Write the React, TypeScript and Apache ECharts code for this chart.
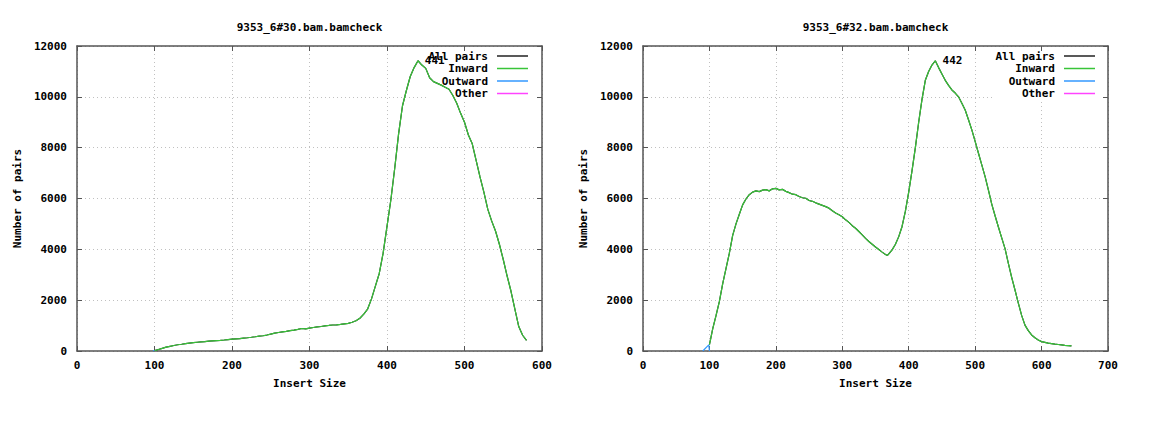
import React, { useEffect, useRef } from "react";
import * as echarts from "echarts";

// ---------- data ----------
const leftTitle = "9353_6#30.bam.bamcheck";
const rightTitle = "9353_6#32.bam.bamcheck";
const seriesNames = ["All pairs", "Inward", "Outward", "Other"];
const seriesColors = ["#222222", "#38c438", "#3399ff", "#ff44ff"];
const xAxisName = "Insert Size";
const yAxisName = "Number of pairs";
const leftXMax = 600;
const rightXMax = 700;
const yMax = 12000;
const xStep = 100;
const yStep = 2000;

const leftPeak = [441, 11420];
const rightPeak = [442, 11420];

const leftInward: number[][] = [
  [100, 15], [105, 60], [110, 105], [115, 150], [120, 185], [125, 215], [130, 245], [135, 265],
  [140, 290], [145, 310], [150, 330], [155, 345], [160, 360], [165, 372], [170, 385], [175, 398],
  [180, 410], [185, 418], [190, 432], [195, 450], [200, 465], [205, 478], [210, 490], [215, 510],
  [220, 522], [225, 540], [230, 560], [235, 582], [240, 600], [245, 628], [250, 665], [255, 700],
  [260, 728], [265, 755], [270, 775], [275, 802], [280, 822], [285, 848], [290, 885], [295, 868],
  [300, 902], [305, 925], [310, 948], [315, 965], [320, 992], [325, 1005], [330, 1022], [335, 1030],
  [340, 1048], [345, 1070], [350, 1090], [355, 1130], [360, 1190], [365, 1290], [370, 1450],
  [375, 1650], [380, 2050], [385, 2550], [390, 3050], [395, 3850], [400, 4900], [405, 5950],
  [410, 7200], [415, 8550], [420, 9650], [425, 10250], [430, 10800], [435, 11150], [440, 11420],
  [445, 11250], [450, 11120], [455, 10750], [460, 10600], [465, 10530], [470, 10460], [475, 10380],
  [480, 10300], [485, 10050], [490, 9750], [495, 9350], [500, 9000], [505, 8500], [510, 8150],
  [515, 7500], [520, 6850], [525, 6250], [530, 5580], [535, 5120], [540, 4720], [545, 4200],
  [550, 3600], [555, 2950], [560, 2350], [565, 1650], [570, 960], [575, 620], [580, 420],
];
const leftOutward: number[][] = [[98, 0], [100, 20]];
const leftOther: number[][] = [];

const rightInward: number[][] = [
  [100, 250], [102, 500], [105, 880], [110, 1400], [115, 1950], [120, 2650], [125, 3250],
  [130, 3850], [135, 4550], [140, 5000], [145, 5380], [150, 5750], [155, 5980], [160, 6150],
  [165, 6250], [170, 6300], [175, 6270], [180, 6330], [185, 6350], [190, 6300], [195, 6380],
  [200, 6400], [205, 6340], [210, 6360], [215, 6280], [220, 6230], [225, 6170], [230, 6150],
  [235, 6080], [240, 6030], [245, 6010], [250, 5920], [255, 5890], [260, 5830], [265, 5780],
  [270, 5730], [275, 5680], [280, 5620], [285, 5520], [290, 5430], [295, 5360], [300, 5280],
  [305, 5160], [310, 5060], [315, 4930], [320, 4830], [325, 4700], [330, 4570], [335, 4430],
  [340, 4310], [345, 4200], [350, 4090], [355, 3990], [360, 3890], [365, 3800], [368, 3760],
  [370, 3820], [375, 3980], [380, 4200], [385, 4500], [390, 4900], [395, 5500], [400, 6250],
  [405, 7100], [410, 8000], [415, 9000], [420, 9900], [425, 10650], [430, 11000], [435, 11250],
  [440, 11420], [445, 11150], [450, 10900], [455, 10650], [460, 10450], [465, 10270], [470, 10150],
  [475, 10000], [480, 9750], [485, 9480], [490, 9100], [495, 8700], [500, 8250], [505, 7780],
  [510, 7320], [515, 6860], [520, 6330], [525, 5780], [530, 5320], [535, 4880], [540, 4450],
  [545, 4030], [550, 3450], [555, 2900], [560, 2400], [565, 1880], [570, 1400], [575, 1020],
  [580, 800], [585, 630], [590, 520], [595, 430], [600, 370], [605, 340], [610, 310], [615, 290],
  [620, 270], [625, 255], [630, 240], [635, 225], [640, 215], [645, 200],
];
const rightOutward: number[][] = [[90, 0], [99, 240], [100, 0]];
const rightOther: number[][] = [];

// ---------- styling ----------
const FONT_FAMILY = '"DejaVu Sans Mono", monospace';
const textStyle = { fontFamily: FONT_FAMILY, fontWeight: "bold" as const, fontSize: 11, color: "#000" };
const frameColor = "#555";
const frameWidth = 1.5;
const plainNumber = (v: number) => String(v);

const grids = [
  { left: 77, top: 46, width: 465, height: 305 },
  { left: 643, top: 46, width: 465, height: 305 },
];

const frameLine = { show: true, onZero: false, lineStyle: { color: frameColor, width: frameWidth } };
const frameTick = { show: true, inside: true, length: 5, lineStyle: { color: frameColor, width: 1 } };
const gridLine = { show: true, lineStyle: { color: "#c0c0c0", type: [1, 3], width: 1 } };

function mainX(gridIndex: number, max: number) {
  return {
    type: "value", gridIndex, min: 0, max, interval: xStep, position: "bottom",
    name: xAxisName, nameLocation: "middle", nameGap: 27, nameTextStyle: textStyle,
    axisLine: frameLine, axisTick: frameTick,
    axisLabel: { ...textStyle, margin: 9, formatter: plainNumber },
    splitLine: gridLine,
  };
}
function mirrorX(gridIndex: number, max: number) {
  return {
    type: "value", gridIndex, min: 0, max, interval: xStep, position: "top", z: 4,
    axisLine: frameLine, axisTick: frameTick,
    axisLabel: { show: false }, splitLine: { show: false },
  };
}
function mainY(gridIndex: number) {
  return {
    type: "value", gridIndex, min: 0, max: yMax, interval: yStep, position: "left",
    name: yAxisName, nameLocation: "middle", nameGap: 54, nameTextStyle: textStyle,
    axisLine: frameLine, axisTick: frameTick,
    axisLabel: { ...textStyle, margin: 10, formatter: plainNumber },
    splitLine: gridLine,
  };
}
function mirrorY(gridIndex: number) {
  return {
    type: "value", gridIndex, min: 0, max: yMax, interval: yStep, position: "right", z: 4,
    axisLine: frameLine, axisTick: frameTick,
    axisLabel: { show: false }, splitLine: { show: false },
  };
}

function buildSeries(axisIndex: number, inward: number[][], outward: number[][], other: number[][], peak: number[]) {
  const all = inward.map((p) => [p[0], p[1]]);
  const groups = [all, inward, outward, other];
  return groups.map((data, i) => ({
    type: "line",
    name: seriesNames[i],
    xAxisIndex: axisIndex,
    yAxisIndex: axisIndex,
    data,
    showSymbol: false,
    symbol: "none",
    z: 2 + i * 0.1,
    lineStyle: { color: seriesColors[i], width: 1.2 },
    itemStyle: { color: seriesColors[i] },
    markPoint:
      i === 1
        ? {
            symbol: "circle",
            symbolSize: 0,
            data: [{ coord: peak, value: peak[0] }],
            label: { show: true, position: "right", distance: 6, formatter: String(peak[0]), ...textStyle },
          }
        : undefined,
  }));
}

const legendRowsY = [56, 68.5, 81, 93.5];

function legendGraphics(textRight: number, lineX1: number, lineX2: number, boxLeft: number, boxRight: number) {
  const els: any[] = [
    { type: "rect", z: 1, shape: { x: boxLeft, y: 47, width: boxRight - boxLeft, height: 53 }, style: { fill: "#fff" } },
  ];
  seriesNames.forEach((name, i) => {
    els.push({
      type: "text", z: 5, x: textRight, y: legendRowsY[i],
      style: { text: name, align: "right", verticalAlign: "middle", font: `bold 11px ${FONT_FAMILY}`, fill: "#000" },
    });
    els.push({
      type: "line", z: 5,
      shape: { x1: lineX1, y1: legendRowsY[i], x2: lineX2, y2: legendRowsY[i] },
      style: { stroke: seriesColors[i], lineWidth: 1.5 },
    });
  });
  return els;
}

export default function App() {
  const ref = useRef<HTMLDivElement>(null);
  useEffect(() => {
    if (!ref.current) return;
    const chart = echarts.init(ref.current, undefined, { renderer: "svg" });
    const option: any = {
      animation: false,
      backgroundColor: "#fff",
      grid: grids,
      xAxis: [mainX(0, leftXMax), mirrorX(0, leftXMax), mainX(1, rightXMax), mirrorX(1, rightXMax)],
      yAxis: [mainY(0), mirrorY(0), mainY(1), mirrorY(1)],
      series: [
        ...buildSeries(0, leftInward, leftOutward, leftOther, leftPeak),
        ...buildSeries(2, rightInward, rightOutward, rightOther, rightPeak),
      ],
      graphic: [
        {
          type: "text", x: 309.5, y: 27,
          style: { text: leftTitle, align: "center", verticalAlign: "middle", font: `bold 11px ${FONT_FAMILY}`, fill: "#000" },
        },
        {
          type: "text", x: 875.5, y: 27,
          style: { text: rightTitle, align: "center", verticalAlign: "middle", font: `bold 11px ${FONT_FAMILY}`, fill: "#000" },
        },
        ...legendGraphics(488, 497, 528, 427, 540),
        ...legendGraphics(1055, 1064, 1095, 994, 1106),
      ],
    };
    chart.setOption(option);
    return () => chart.dispose();
  }, []);
  return <div ref={ref} style={{ position: "absolute", left: 0, top: 0, width: 1150, height: 427 }} />;
}
